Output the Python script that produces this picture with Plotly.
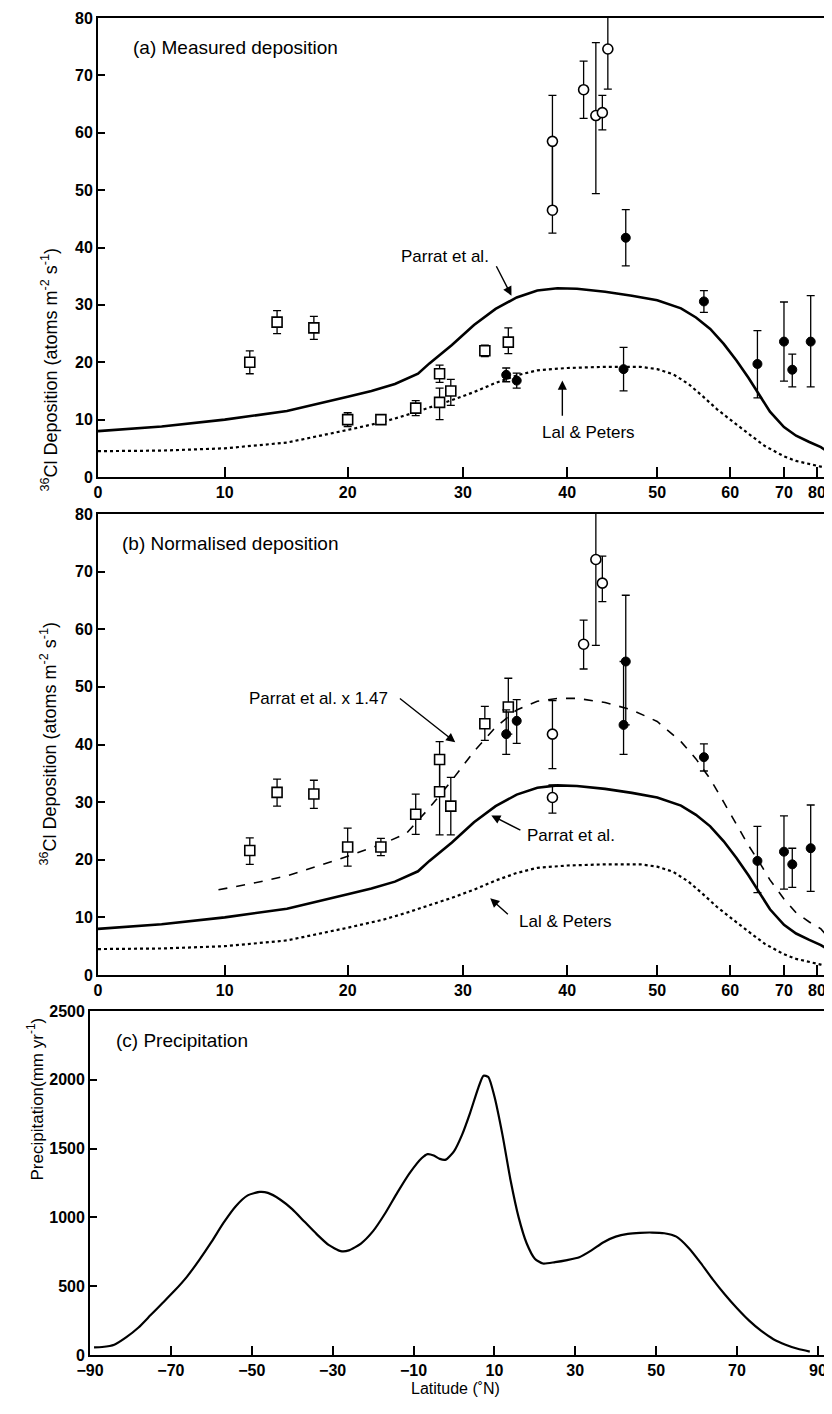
import numpy as np
import plotly.graph_objects as go

# ---------------- data ----------------
# Model curves (latitude degN -> 36Cl deposition, atoms m-2 s-1)
parrat_lat = [0, 5, 10, 15, 20, 22, 24, 26, 27, 29, 31, 33, 35, 37, 39, 41, 44, 47, 50, 53, 55, 57, 59, 61, 63, 65, 67, 70, 73, 77, 82, 90]
parrat_val = [8.0, 8.8, 10.0, 11.5, 14.0, 15.0, 16.2, 18.0, 19.8, 23.0, 26.5, 29.3, 31.3, 32.5, 32.9, 32.8, 32.3, 31.6, 30.8, 29.4, 27.8, 25.8, 23.2, 20.3, 17.3, 14.2, 11.4, 8.7, 7.2, 6.1, 5.2, 4.4]

lal_lat = [0, 5, 10, 15, 20, 23, 25, 27, 29, 31, 33, 35, 37, 40, 44, 48, 50, 52, 54, 56, 58, 60, 62, 64, 66, 68, 70, 73, 77, 82, 90]
lal_val = [4.5, 4.6, 5.0, 6.0, 8.2, 9.6, 10.8, 12.1, 13.4, 14.8, 16.4, 17.7, 18.6, 19.0, 19.2, 19.2, 18.8, 17.9, 16.2, 14.0, 11.8, 10.0, 8.3, 6.8, 5.4, 4.4, 3.6, 2.8, 2.2, 1.8, 1.5]

parrat147_lat = [9.5, 12, 15, 18, 20, 23, 25, 27, 29, 31, 33, 35, 37, 39, 41, 44, 47, 50, 53, 55, 57, 59, 61, 63, 65, 67, 70, 73, 77, 82, 90]
parrat147_val = [14.8, 15.8, 17.2, 19.3, 20.6, 22.8, 24.6, 29.0, 33.8, 38.8, 43.0, 46.0, 47.5, 48.0, 48.0, 47.3, 46.0, 44.0, 40.5, 37.5, 34.0, 30.0, 26.0, 22.5, 19.5, 16.5, 13.2, 10.8, 9.2, 8.0, 6.6]

# (a) measured deposition
a_sq_lat = [12.0, 14.2, 17.2, 20.0, 22.8, 25.8, 27.9, 27.9, 28.9, 32.0, 34.2]
a_sq_val = [20.0, 27.0, 26.0, 10.0, 10.0, 12.0, 13.0, 18.0, 15.0, 22.0, 23.5]
a_sq_up = [2.0, 2.0, 2.0, 1.2, 0.6, 1.3, 2.5, 1.5, 2.0, 1.0, 2.5]
a_sq_dn = [2.0, 2.0, 2.0, 1.2, 0.6, 1.3, 3.0, 1.5, 2.5, 1.0, 2.0]

a_oc_lat = [38.5, 38.5, 41.7, 43.0, 43.7, 44.3]
a_oc_val = [58.5, 46.5, 67.5, 63.0, 63.5, 74.6]
a_oc_up = [8.0, 12.0, 5.0, 12.7, 3.0, 8.0]
a_oc_dn = [12.0, 4.0, 5.0, 13.6, 3.0, 7.0]

a_fc_lat = [34.0, 35.0, 46.05, 46.3, 56.1, 64.6, 70.0, 72.0, 77.5]
a_fc_val = [17.8, 16.8, 18.8, 41.7, 30.6, 19.7, 23.6, 18.7, 23.6]
a_fc_up = [1.2, 1.3, 3.8, 4.9, 1.9, 5.8, 6.9, 2.7, 8.0]
a_fc_dn = [1.2, 1.3, 3.8, 4.9, 1.9, 5.9, 6.9, 3.0, 7.9]

# (b) normalised deposition
b_sq_lat = [12.0, 14.2, 17.2, 20.0, 22.8, 25.8, 27.9, 27.9, 28.9, 32.0, 34.2]
b_sq_val = [21.6, 31.7, 31.4, 22.2, 22.2, 27.9, 37.4, 31.8, 29.3, 43.6, 46.5]
b_sq_up = [2.2, 2.3, 2.4, 3.3, 1.5, 3.5, 3.1, 5.6, 5.0, 3.0, 5.0]
b_sq_dn = [2.4, 2.4, 2.5, 3.3, 1.5, 3.5, 5.6, 7.5, 5.0, 2.9, 4.7]

b_oc_lat = [38.5, 38.5, 41.7, 43.0, 43.7]
b_oc_val = [41.8, 30.8, 57.4, 72.1, 68.0]
b_oc_up = [5.8, 2.2, 4.2, 8.0, 4.7]
b_oc_dn = [6.0, 2.7, 4.3, 14.9, 3.2]

b_fc_lat = [34.0, 35.0, 46.05, 46.3, 56.1, 64.6, 70.0, 72.0, 77.5]
b_fc_val = [41.8, 44.1, 43.4, 54.4, 37.8, 19.8, 21.4, 19.2, 22.0]
b_fc_up = [4.2, 3.7, 11.0, 11.5, 2.3, 6.0, 6.2, 2.8, 7.5]
b_fc_dn = [3.5, 3.9, 5.1, 11.0, 2.4, 5.5, 6.5, 4.0, 7.5]

# (c) zonal precipitation (latitude -> mm/yr)
precip_lat = [-89, -87, -84, -81, -78, -75, -72, -69, -66, -63, -60, -57, -54, -51, -48, -46, -43, -40, -37, -34, -31, -28, -26, -23, -20, -17, -14, -11, -8, -6.5, -5, -3.5, -2, 0, 2, 4, 6, 7.3, 8.5, 10, 12, 14, 16, 18, 20, 22, 25, 28, 31, 34, 37, 40, 43, 46, 49, 52, 55, 58, 61, 64, 67, 70, 73, 76, 79, 82, 85, 88]
precip_val = [55, 58, 75, 130, 200, 290, 380, 470, 570, 690, 820, 960, 1080, 1160, 1185, 1178, 1130, 1060, 970, 880, 800, 755, 760, 810, 900, 1030, 1180, 1320, 1430, 1460, 1450, 1425, 1420, 1480, 1600, 1760, 1940, 2030, 2020, 1880, 1600, 1270, 1000, 810, 700, 665, 675, 690, 710, 760, 820, 860, 880, 888, 890, 885, 860, 780, 670, 550, 440, 340, 250, 175, 115, 75, 45, 25]

tick_lat = [0, 10, 20, 30, 40, 50, 60, 70, 80]
precip_ticks = [-90, -70, -50, -30, -10, 10, 30, 50, 70, 90]


def s(lat):
    """area-weighted latitude axis: position = sin(latitude)"""
    return np.sin(np.radians(np.asarray(lat, dtype=float)))


# the page body adds an 8 px margin, so the figure is drawn 8 px in from the corner
OFF = 8
W, H = 832 - OFF, 1414 - OFF
FONT = "Liberation Sans, Arial, Helvetica, sans-serif"

def px_x(p):
    return (p - OFF) / W

def px_y(p):
    return 1 - (p - OFF) / H

fig = go.Figure()

line_solid = dict(color="black", width=2.6)
line_dot = dict(color="black", width=2.2, dash="dot")
line_dash = dict(color="black", width=1.6, dash="dash")


def err(up, dn):
    return dict(type="data", symmetric=False, array=up, arrayminus=dn,
                color="black", thickness=1.3, width=4)


def add_panel(xa, ya, sq, oc, fc, dashed=False):
    if dashed:
        fig.add_trace(go.Scatter(x=s(parrat147_lat), y=parrat147_val, mode="lines",
                                 line=line_dash, xaxis=xa, yaxis=ya, showlegend=False))
    fig.add_trace(go.Scatter(x=s(parrat_lat), y=parrat_val, mode="lines",
                             line=line_solid, xaxis=xa, yaxis=ya, showlegend=False))
    fig.add_trace(go.Scatter(x=s(lal_lat), y=lal_val, mode="lines",
                             line=line_dot, xaxis=xa, yaxis=ya, showlegend=False))
    lat, val, up, dn = sq
    fig.add_trace(go.Scatter(x=s(lat), y=val, mode="markers", error_y=err(up, dn),
                             marker=dict(symbol="square", size=10, color="white",
                                         line=dict(color="black", width=1.6)),
                             xaxis=xa, yaxis=ya, showlegend=False))
    lat, val, up, dn = oc
    fig.add_trace(go.Scatter(x=s(lat), y=val, mode="markers", error_y=err(up, dn),
                             marker=dict(symbol="circle", size=10, color="white",
                                         line=dict(color="black", width=1.6)),
                             xaxis=xa, yaxis=ya, showlegend=False))
    lat, val, up, dn = fc
    fig.add_trace(go.Scatter(x=s(lat), y=val, mode="markers", error_y=err(up, dn),
                             marker=dict(symbol="circle", size=9, color="black",
                                         line=dict(color="black", width=1)),
                             xaxis=xa, yaxis=ya, showlegend=False))


add_panel("x", "y", (a_sq_lat, a_sq_val, a_sq_up, a_sq_dn),
          (a_oc_lat, a_oc_val, a_oc_up, a_oc_dn),
          (a_fc_lat, a_fc_val, a_fc_up, a_fc_dn))
add_panel("x2", "y2", (b_sq_lat, b_sq_val, b_sq_up, b_sq_dn),
          (b_oc_lat, b_oc_val, b_oc_up, b_oc_dn),
          (b_fc_lat, b_fc_val, b_fc_up, b_fc_dn), dashed=True)

fig.add_trace(go.Scatter(x=precip_lat, y=precip_val, mode="lines",
                         line=dict(color="black", width=2.2, shape="spline", smoothing=0.6),
                         xaxis="x3", yaxis="y3", showlegend=False))

tickfont = dict(family=FONT, size=16, color="black", weight="bold")
common = dict(showgrid=False, zeroline=False, showline=True, linecolor="black",
              linewidth=1.8, mirror=True, ticks="inside", tickcolor="black",
              tickwidth=1.5, tickfont=tickfont, automargin=False,
              ticklabeloverflow="allow")

xdom_ab = [px_x(98), px_x(828)]
xdom_c = [px_x(90), px_x(828)]
ydom_a = [px_y(477), px_y(18)]
ydom_b = [px_y(975), px_y(514)]
ydom_c = [px_y(1355), px_y(1011)]

lat_axis = dict(range=[0, 1.0], tickmode="array", tickvals=list(s(tick_lat)),
                ticktext=[str(t) for t in tick_lat], ticklen=10, **common)
dep_axis = dict(range=[0, 80], tickmode="array", tickvals=list(range(0, 81, 10)),
                ticklen=7, **common)

fig.update_layout(
    width=W, height=H, margin=dict(l=0, r=0, t=0, b=0),
    paper_bgcolor="white", plot_bgcolor="white",
    xaxis=dict(domain=xdom_ab, anchor="y", **lat_axis),
    yaxis=dict(domain=ydom_a, anchor="x", **dep_axis),
    xaxis2=dict(domain=xdom_ab, anchor="y2", **lat_axis),
    yaxis2=dict(domain=ydom_b, anchor="x2", **dep_axis),
    xaxis3=dict(domain=xdom_c, anchor="y3", range=[-90, 92.5], tickmode="array",
                tickvals=precip_ticks, ticklen=9, **common),
    yaxis3=dict(domain=ydom_c, anchor="x3", range=[0, 2500], tickmode="array",
                tickvals=list(range(0, 2501, 500)), ticklen=7, **common),
)

ann = []
tf = dict(family=FONT, size=17, color="black")
title_font = dict(family=FONT, size=19, color="black")
# panel titles
ann.append(dict(xref="x domain", yref="y domain", x=0.045, y=0.935, xanchor="left",
                yanchor="middle", text="(a) Measured deposition", showarrow=False,
                font=title_font))
ann.append(dict(xref="x2 domain", yref="y2 domain", x=0.03, y=0.935, xanchor="left",
                yanchor="middle", text="(b) Normalised deposition", showarrow=False,
                font=title_font))
ann.append(dict(xref="x3 domain", yref="y3 domain", x=0.032, y=0.915, xanchor="left",
                yanchor="middle", text="(c) Precipitation", showarrow=False,
                font=title_font))

ytitle = "<sup>36</sup>Cl Deposition (atoms m<sup>-2</sup> s<sup>-1</sup>)"
ann.append(dict(xref="paper", yref="paper", x=px_x(36), y=px_y(246), text=ytitle,
                textangle=-90, showarrow=False, font=dict(family=FONT, size=18, color="black")))
ann.append(dict(xref="paper", yref="paper", x=px_x(36), y=px_y(744), text=ytitle,
                textangle=-90, showarrow=False, font=dict(family=FONT, size=18, color="black")))
ann.append(dict(xref="paper", yref="paper", x=px_x(22), y=px_y(1183),
                text="Precipitation(mm yr<sup>-1</sup>)",
                textangle=-90, showarrow=False, font=dict(family=FONT, size=17, color="black")))
ann.append(dict(xref="paper", yref="paper", x=px_x(455), y=px_y(1399),
                text="Latitude (˚N)", showarrow=False,
                font=dict(family=FONT, size=16, color="black")))

# curve labels and arrows
def label(xr, yr, lat, v, text):
    ann.append(dict(xref=xr, yref=yr, x=float(s(lat)), y=v, text=text, showarrow=False,
                    font=tf))

def arrow(xr, yr, lat_h, v_h, lat_t, v_t):
    ann.append(dict(xref=xr, yref=yr, x=float(s(lat_h)), y=v_h, axref=xr, ayref=yr,
                    ax=float(s(lat_t)), ay=v_t, text="", showarrow=True,
                    arrowhead=2, arrowsize=1.3, arrowwidth=1.4, arrowcolor="black"))

label("x", "y", 28.4, 38.4, "Parrat et al.")
arrow("x", "y", 34.5, 31.6, 33.0, 37.0)
label("x", "y", 42.2, 7.8, "Lal & Peters")
arrow("x", "y", 39.5, 16.8, 39.5, 10.4)

label("x2", "y2", 17.6, 48.0, "Parrat et al. x 1.47")
arrow("x2", "y2", 29.3, 40.4, 24.3, 48.2)
label("x2", "y2", 40.4, 24.2, "Parrat et al.")
arrow("x2", "y2", 32.6, 27.7, 35.5, 25.0)
label("x2", "y2", 39.8, 9.2, "Lal & Peters")
arrow("x2", "y2", 32.5, 13.3, 34.3, 10.3)

fig.update_layout(annotations=ann)

fig.write_html("out.html")
